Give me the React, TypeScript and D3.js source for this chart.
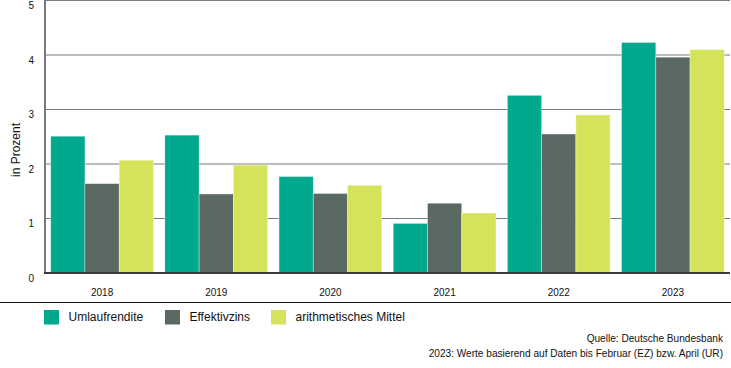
import React from "react";
import * as d3 from "d3";

// data
const years = ["2018", "2019", "2020", "2021", "2022", "2023"];
const seriesNames = ["Umlaufrendite", "Effektivzins", "arithmetisches Mittel"];
const umlaufrendite = [2.51, 2.53, 1.77, 0.91, 3.26, 4.23];
const effektivzins = [1.64, 1.45, 1.46, 1.28, 2.55, 3.96];
const mittel = [2.07, 1.98, 1.61, 1.1, 2.9, 4.1];
const yTicks = [0, 1, 2, 3, 4, 5];
const colors = ["#00a88e", "#5a6a63", "#d4e35a"];

const W = 731;
const H = 368;
const margin = { left: 45, right: 730, top: 0.5, bottom: 273 };
const font = "'Liberation Sans', Arial, sans-serif";

function App() {
  const series = [umlaufrendite, effektivzins, mittel];

  const x = d3
    .scaleBand()
    .domain(years)
    .range([margin.left, margin.right])
    .paddingInner(0.1)
    .paddingOuter(0.05);

  const x1 = d3
    .scaleBand()
    .domain(seriesNames)
    .range([0, x.bandwidth()]);

  const y = d3.scaleLinear().domain([0, 5]).range([margin.bottom, margin.top]);

  const legendX = [44, 165, 271];

  return (
    <svg
      width={W}
      height={H}
      style={{ position: "absolute", left: 0, top: 0, background: "#fff" }}
      fontFamily={font}
    >
      {/* gridlines */}
      {yTicks
        .filter((t) => t > 0)
        .map((t) => (
          <line
            key={t}
            x1={margin.left}
            x2={margin.right}
            y1={y(t)}
            y2={y(t)}
            stroke="#7a7a7a"
            strokeWidth={1.2}
          />
        ))}

      {/* bars */}
      {years.map((yr, i) => (
        <g key={yr} transform={`translate(${x(yr)},0)`}>
          {series.map((s, j) => (
            <rect
              key={j}
              x={x1(seriesNames[j])}
              y={y(s[i])}
              width={x1.bandwidth()}
              height={y(0) - y(s[i])}
              fill={colors[j]}
              stroke="#ffffff"
              strokeOpacity={0.45}
              strokeWidth={0.8}
            />
          ))}
        </g>
      ))}

      {/* left axis line */}
      <line
        x1={margin.left}
        x2={margin.left}
        y1={0}
        y2={margin.bottom}
        stroke="#7a7a7a"
        strokeWidth={2}
      />
      {/* baseline */}
      <line
        x1={margin.left - 1}
        x2={margin.right}
        y1={y(0)}
        y2={y(0)}
        stroke="#3c3c3c"
        strokeWidth={2}
      />

      {/* y tick labels */}
      {yTicks.map((t) => (
        <text
          key={t}
          x={34}
          y={y(t) + 6}
          textAnchor="end"
          dominantBaseline="middle"
          fontSize={10}
          fill="#111"
        >
          {t}
        </text>
      ))}

      <text
        transform={`translate(16.5,150) rotate(-90)`}
        textAnchor="middle"
        dominantBaseline="middle"
        fontSize={12}
        fill="#111"
      >
        in Prozent
      </text>

      {/* x labels */}
      {years.map((yr) => (
        <text
          key={yr}
          x={(x(yr) as number) + x.bandwidth() / 2}
          y={293}
          textAnchor="middle"
          dominantBaseline="middle"
          fontSize={10}
          fill="#111"
        >
          {yr}
        </text>
      ))}

      {/* separator */}
      <line x1={0} x2={W} y1={302.5} y2={302.5} stroke="#111" strokeWidth={1.2} />

      {/* legend */}
      {seriesNames.map((name, j) => (
        <g key={name} transform={`translate(${legendX[j]},310)`}>
          <rect width={15} height={14.5} fill={colors[j]} />
          <text x={24.5} y={8} dominantBaseline="middle" fontSize={12} fill="#111">
            {name}
          </text>
        </g>
      ))}

      {/* sources */}
      <text x={723} y={339.5} textAnchor="end" dominantBaseline="middle" fontSize={10.1} fill="#111">
        Quelle: Deutsche Bundesbank
      </text>
      <text x={723} y={354.5} textAnchor="end" dominantBaseline="middle" fontSize={10.1} fill="#111">
        2023: Werte basierend auf Daten bis Februar (EZ) bzw. April (UR)
      </text>
    </svg>
  );
}

export default App;
